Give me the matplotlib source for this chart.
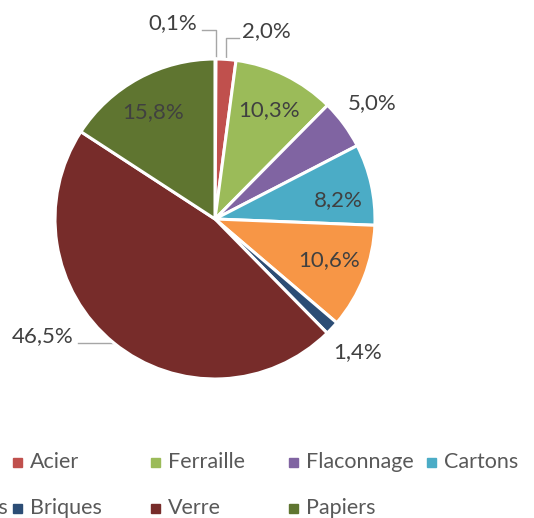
import numpy as np
import matplotlib.pyplot as plt
from matplotlib.patches import Rectangle

labels = ["Aluminium", "Acier", "Ferraille", "Flaconnage", "Cartons",
          "Films & sacs", "Briques", "Verre", "Papiers"]
values = [0.1, 2.0, 10.3, 5.0, 8.2, 10.6, 1.4, 46.5, 15.8]
colors = ["#4F81BD", "#C0504D", "#9BBB59", "#8064A2", "#4BACC6",
          "#F79646", "#2C4D75", "#772C2A", "#5F7530"]
# label placement: radius factor, angle shift (deg), leader line or not
lab_r = [1.23, 1.187, 0.76, 1.22, 0.78, 0.76, 1.22, 1.15, 0.77]
lab_da = [-5.4, 4.2, 0.0, 0.0, 4.0, -1.5, 0.0, 11.2, -1.5]
leader = [True, True, False, False, False, False, False, True, False]

plt.rcParams['font.family'] = ['Lato', 'DejaVu Sans']
lab_col = "#404040"
leg_col = "#595959"

fig = plt.figure(figsize=(5.34, 5.18), dpi=100)
ax = fig.add_axes([0, 0, 1, 1])
cx, cy, R = 215, 299, 160  # pie centre / radius in pixels (from bottom)

wedges, _ = ax.pie(values, colors=colors, startangle=90, counterclock=False,
                   wedgeprops=dict(edgecolor="white", linewidth=2.2))
ax.set_xlim(-cx / R, (534 - cx) / R)
ax.set_ylim(-cy / R, (518 - cy) / R)
ax.set_aspect('auto')

total = sum(values)
start = 0.0
for i, v in enumerate(values):
    mid = start + v / total * 360 / 2
    start += v / total * 360
    ang = np.deg2rad(mid + lab_da[i])
    tx, ty = lab_r[i] * np.sin(ang), lab_r[i] * np.cos(ang)
    s = f"{v:.1f}%".replace(".", ",")
    if leader[i]:
        m = np.deg2rad(mid)
        ex, ey = np.sin(m), np.cos(m)
        if tx < 0:
            ha, lx = "right", tx + 0.03
        else:
            ha, lx = "left", tx - 0.02
        ly = ty - 0.045
        ax.plot([lx, ex, ex], [ly, ly, ey],
                color="#A6A6A6", lw=1.0, zorder=0)
        ax.text(tx, ty, s, ha=ha, va="center", fontsize=16, color=lab_col)
    else:
        ax.text(tx, ty, s, ha="center", va="center", fontsize=16, color=lab_col)

# legend, 5 columns, first column falls off the left edge
col_w, row_h = 138, 46
x0, y0 = 13 - col_w, 518 - 462
for i, (lab, c) in enumerate(zip(labels, colors)):
    r, k = divmod(i, 5)
    x = x0 + k * col_w
    y = y0 - r * row_h
    fig.patches.append(Rectangle((x / 534, (y - 4.5) / 518), 9 / 534, 9 / 518,
                                 transform=fig.transFigure, color=c))
    fig.text((x + 17) / 534, y / 518, lab, ha="left", va="center",
             fontsize=15.5, color=leg_col)

fig.savefig("out.png", dpi=100)
